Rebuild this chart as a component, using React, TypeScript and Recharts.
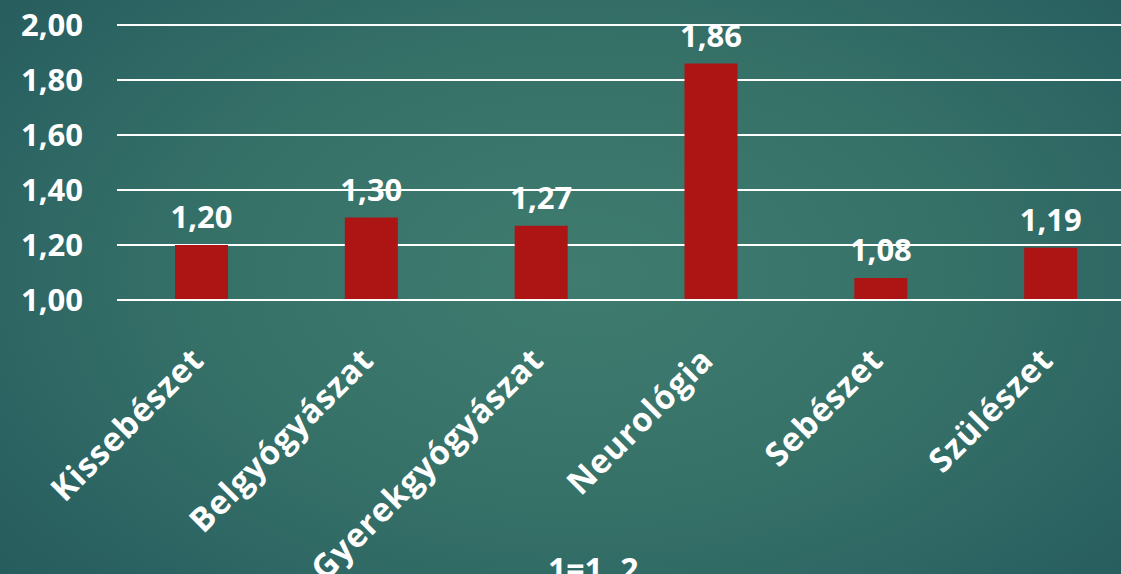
import React from 'react';
import { BarChart, Bar, XAxis, YAxis, CartesianGrid, LabelList } from 'recharts';

const categories = ['Kissebészet', 'Belgyógyászat', 'Gyerekgyógyászat', 'Neurológia', 'Sebészet', 'Szülészet'];
const values = [1.2, 1.3, 1.27, 1.86, 1.08, 1.19];
const yTicks = [1.0, 1.2, 1.4, 1.6, 1.8, 2.0];
const footnote = '1=1, 2';

const data = categories.map((name, i) => ({ name, value: values[i] }));

const FONT = '"Open Sans", Lato, sans-serif';
const fmt = (v: number) => Number(v).toFixed(2).replace('.', ',');

const XTick = (props: any) => {
  const { x, y, payload } = props;
  const ax = x + 4;
  const ay = y + 54;
  return (
    <text
      x={ax}
      y={ay}
      textAnchor="end"
      transform={`rotate(-45, ${ax}, ${ay})`}
      fill="#ffffff"
      fontFamily={FONT}
      fontWeight={700}
      fontSize={33}
      letterSpacing={0.8}
    >
      {payload.value}
    </text>
  );
};

export default function App() {
  return (
    <div
      style={{
        position: 'absolute',
        left: 0,
        top: 0,
        width: 1121,
        height: 574,
        overflow: 'hidden',
        background:
          'radial-gradient(ellipse 75% 90% at 52% 48%, #3f7c6f 0%, #367168 45%, #2b6362 75%, #245858 100%)',
        fontFamily: FONT,
      }}
    >
      <BarChart
        width={1140}
        height={574}
        data={data}
        margin={{ top: 25, right: 4, left: 0, bottom: 0 }}
        barSize={53}
      >
        <CartesianGrid vertical={false} stroke="#ffffff" strokeWidth={2} />
        <XAxis
          dataKey="name"
          height={274}
          interval={0}
          axisLine={{ stroke: '#ffffff', strokeWidth: 2 }}
          tickLine={false}
          tick={<XTick />}
        />
        <YAxis
          width={117}
          domain={[1, 2]}
          ticks={yTicks}
          axisLine={false}
          tickLine={false}
          tickSize={0}
          tickMargin={34}
          tickFormatter={fmt}
          tick={{ fill: '#ffffff', fontSize: 31, fontWeight: 700, fontFamily: FONT }}
        />
        <Bar dataKey="value" fill="#ad1515" isAnimationActive={false}>
          <LabelList
            dataKey="value"
            position="top"
            offset={17}
            formatter={fmt}
            fill="#ffffff"
            fontSize={31}
            fontWeight={700}
            fontFamily={FONT}
          />
        </Bar>
      </BarChart>
      <div
        style={{
          position: 'absolute',
          left: 548,
          top: 553,
          fontSize: 32,
          lineHeight: '32px',
          fontWeight: 700,
          color: '#ffffff',
          whiteSpace: 'nowrap',
        }}
      >
        {footnote}
      </div>
    </div>
  );
}
